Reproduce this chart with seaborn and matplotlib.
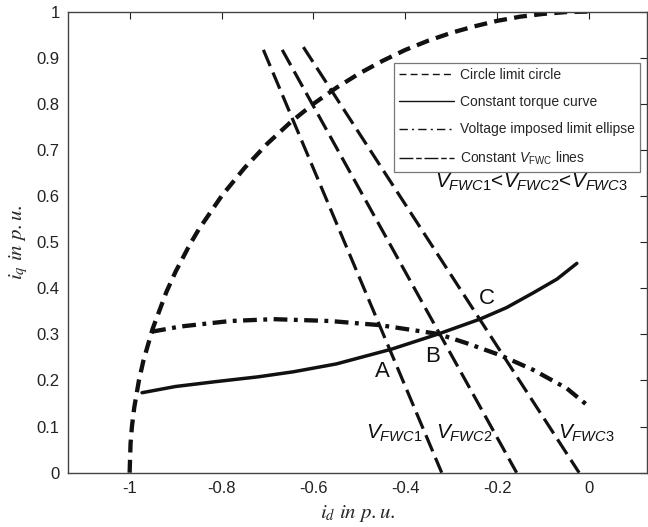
import matplotlib
matplotlib.use("Agg")
import matplotlib.pyplot as plt
import seaborn as sns
import pandas as pd
from matplotlib.lines import Line2D

# ---------------- data ----------------
circle_id = [-1.0, -0.998, -0.995, -0.99, -0.98, -0.97, -0.95, -0.92, -0.9, -0.87,
             -0.85, -0.8, -0.75, -0.7, -0.65, -0.6, -0.55, -0.5, -0.45, -0.4,
             -0.35, -0.3, -0.25, -0.2, -0.15, -0.1, -0.05, 0.0]
circle_iq = [0.0, 0.063, 0.1, 0.141, 0.199, 0.243, 0.312, 0.392, 0.436, 0.493,
             0.527, 0.6, 0.661, 0.714, 0.76, 0.8, 0.835, 0.866, 0.893, 0.917,
             0.937, 0.954, 0.968, 0.98, 0.989, 0.995, 0.999, 1.0]

torque_id = [-0.973, -0.9, -0.817, -0.72, -0.643, -0.55, -0.43, -0.328, -0.238,
             -0.18, -0.122, -0.07, -0.027]
torque_iq = [0.1735, 0.187, 0.197, 0.208, 0.219, 0.236, 0.268, 0.301, 0.333,
             0.358, 0.39, 0.42, 0.454]

ellipse_id = [-0.951, -0.89, -0.781, -0.687, -0.564, -0.455, -0.329, -0.267, -0.194, -0.122, -0.049, -0.005]
ellipse_iq = [0.306, 0.317, 0.329, 0.333, 0.329, 0.320, 0.301, 0.281, 0.255, 0.223, 0.183, 0.147]

vline_names = ["VFWC1", "VFWC2", "VFWC3"]
vline_id = [[-0.709, -0.321], [-0.668, -0.158], [-0.622, -0.022]]
vline_iq = [[0.917, 0.0], [0.917, 0.0], [0.923, 0.0]]

point_labels = ["A", "B", "C"]
point_label_id = [-0.451, -0.34, -0.223]
point_label_iq = [0.219, 0.253, 0.378]

vlabel_texts = [r"$V_{FWC1}$", r"$V_{FWC2}$", r"$V_{FWC3}$"]
vlabel_id = [-0.424, -0.272, -0.007]
vlabel_iq = [0.085, 0.085, 0.085]

legend_labels = ["Circle limit circle", "Constant torque curve",
                 "Voltage imposed limit ellipse", r"Constant $V_{\mathrm{FWC}}$ lines"]

xticks = [-1, -0.8, -0.6, -0.4, -0.2, 0]
xtick_labels = ["-1", "-0.8", "-0.6", "-0.4", "-0.2", "0"]
yticks = [0, 0.1, 0.2, 0.3, 0.4, 0.5, 0.6, 0.7, 0.8, 0.9, 1]
ytick_labels = ["0", "0.1", "0.2", "0.3", "0.4", "0.5", "0.6", "0.7", "0.8", "0.9", "1"]

# ---------------- style ----------------
sns.set_theme(style="white")
plt.rcParams["font.family"] = ["Liberation Sans", "DejaVu Sans"]
plt.rcParams["mathtext.fontset"] = "custom"
plt.rcParams["mathtext.rm"] = "Liberation Sans"
plt.rcParams["mathtext.it"] = "Liberation Sans:italic"
plt.rcParams["mathtext.bf"] = "Liberation Sans:bold"

fig = plt.figure(figsize=(6.48, 5.27), dpi=100)
ax = fig.add_axes([0.105, 0.103, 0.893, 0.875])

K = "#111111"
circle_dash = (3.0, 1.7)
ellipse_dash = (3.2, 1.5, 0.9, 1.5)
vline_dash = (5.5, 2.2)

df_c = pd.DataFrame({"id": circle_id, "iq": circle_iq})
sns.lineplot(data=df_c, x="id", y="iq", sort=False, estimator=None, ax=ax,
             color=K, lw=3.1, legend=False)
ax.lines[-1].set_dashes(circle_dash)

df_t = pd.DataFrame({"id": torque_id, "iq": torque_iq})
sns.lineplot(data=df_t, x="id", y="iq", sort=False, estimator=None, ax=ax,
             color=K, lw=2.5, legend=False)

df_e = pd.DataFrame({"id": ellipse_id, "iq": ellipse_iq})
sns.lineplot(data=df_e, x="id", y="iq", sort=False, estimator=None, ax=ax,
             color=K, lw=3.1, legend=False)
ax.lines[-1].set_dashes(ellipse_dash)

for name, xs, ys in zip(vline_names, vline_id, vline_iq):
    d = pd.DataFrame({"id": xs, "iq": ys})
    sns.lineplot(data=d, x="id", y="iq", sort=False, estimator=None, ax=ax,
                 color=K, lw=2.3, legend=False)
    ax.lines[-1].set_dashes(vline_dash)

for t, x, y in zip(point_labels, point_label_id, point_label_iq):
    ax.text(x, y, t, fontsize=16, ha="center", va="center", color=K)

for t, x, y in zip(vlabel_texts, vlabel_id, vlabel_iq):
    ax.text(x, y, t, fontsize=15, ha="center", va="center", color=K)

ax.text(0.084, 0.63, r"$V_{FWC1}$<$V_{FWC2}$<$V_{FWC3}$", fontsize=15,
        ha="right", va="center", color=K)

ax.set_xlim(-1.134, 0.125)
ax.set_ylim(0, 1)
ax.set_xticks(xticks)
ax.set_xticklabels(xtick_labels)
ax.set_yticks(yticks)
ax.set_yticklabels(ytick_labels)
ax.tick_params(direction="in", top=True, right=True, length=5, width=0.8,
               labelsize=12, colors="#222222", pad=6)
for s in ax.spines.values():
    s.set_color("#444444")
    s.set_linewidth(1.0)

ax.set_xlabel(r"$i_d\ in\ p.u.$", fontsize=15, math_fontfamily="stix", labelpad=5)
ax.set_ylabel(r"$i_q\ in\ p.u.$", fontsize=15, math_fontfamily="stix", labelpad=5)

handles = [
    Line2D([], [], color=K, lw=1.0, dashes=(5, 3)),
    Line2D([], [], color=K, lw=1.0),
    Line2D([], [], color=K, lw=1.0, dashes=(6, 3, 1.5, 3)),
    Line2D([], [], color=K, lw=1.0, dashes=(10, 2, 4, 2)),
]
leg = ax.legend(handles, legend_labels, loc="upper right",
                bbox_to_anchor=(0.988, 0.888), fontsize=10, frameon=True,
                fancybox=False, handlelength=4.0, handletextpad=0.4,
                labelspacing=0.95, borderpad=0.35, borderaxespad=0.0)
leg.get_frame().set_edgecolor("#555555")
leg.get_frame().set_linewidth(0.9)

fig.savefig("out.png", dpi=100)
